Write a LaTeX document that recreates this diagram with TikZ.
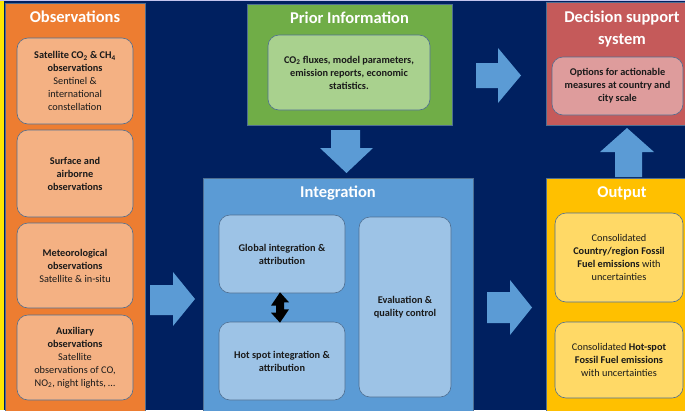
\documentclass[tikz,border=0pt]{standalone}
\usepackage{fontspec}
\setmainfont{Carlito}
\definecolor{navy}{HTML}{002060}
\definecolor{obsor}{HTML}{ED7D31}
\definecolor{obsin}{HTML}{F4B183}
\definecolor{prgr}{HTML}{70AD47}
\definecolor{prin}{HTML}{A9D18E}
\definecolor{intbl}{HTML}{5B9BD5}
\definecolor{intin}{HTML}{9DC3E6}
\definecolor{decred}{HTML}{C55A5A}
\definecolor{decin}{HTML}{DE9C9C}
\definecolor{outyl}{HTML}{FFC000}
\definecolor{outin}{HTML}{FFD966}
\definecolor{edgec}{HTML}{4F6F92}
\definecolor{txt}{HTML}{1A1A1A}
\begin{document}
\begin{tikzpicture}[x=1pt,y=-1pt,
  panel/.style={draw=edgec, line width=0.6pt, anchor=north west, inner sep=0pt},
  box/.style={draw=edgec, line width=0.6pt, rounded corners=11pt, align=center,
    inner sep=0pt, text=txt, font=\fontsize{10.3}{13}\selectfont},
  title/.style={text=white, font=\fontsize{16.5}{22}\selectfont\bfseries, align=center, inner sep=0pt},
  blockarrow/.style={fill=intbl},
]
\useasboundingbox (0,0) rectangle (685,410);
\fill[navy] (0,0) rectangle (685,410);
\fill[yellow!90!orange] (0,0) rectangle (3.5,410);
\fill[gray!45!blue!30] (0,0) rectangle (685,1.2);

% Observations
\node[panel, fill=obsor, minimum width=140pt, minimum height=412pt] (obs) at (5,3) {};
\node[title] (obst) at (75,17) {Observations};
\node[box, fill=obsin, minimum width=116pt, minimum height=86pt] (sat) at (75,81)
  {\textbf{Satellite CO\textsubscript{2} \& CH\textsubscript{4}}\\\textbf{observations}\\Sentinel \&\\international\\constellation};
\node[box, fill=obsin, minimum width=116pt, minimum height=87pt] (surf) at (75,173.5)
  {\textbf{Surface and}\\\textbf{airborne}\\\textbf{observations}};
\node[box, fill=obsin, minimum width=116pt, minimum height=85pt] (meteo) at (75,265.5)
  {\textbf{Meteorological}\\\textbf{observations}\\Satellite \& in-situ};
\node[box, fill=obsin, minimum width=116pt, minimum height=85pt] (aux) at (75,357.5)
  {\textbf{Auxiliary}\\\textbf{observations}\\Satellite\\observations of CO,\\NO\textsubscript{2}, night lights, \dots};

% Prior information
\node[panel, fill=prgr, minimum width=205pt, minimum height=121pt] (prior) at (247,4) {};
\node[title] (priort) at (349.5,18) {Prior Information};
\node[box, fill=prin, minimum width=162pt, minimum height=75pt] (priorin) at (349,72.5)
  {\textbf{CO\textsubscript{2} fluxes, model parameters,}\\\textbf{emission reports, economic}\\\textbf{statistics.}};

% Integration
\node[panel, fill=intbl, minimum width=270pt, minimum height=240pt] (integ) at (203,178) {};
\node[title] (integt) at (338,193) {Integration};
\node[box, fill=intin, minimum width=126pt, minimum height=78pt] (glob) at (282,254)
  {\textbf{Global integration \&}\\\textbf{attribution}};
\node[box, fill=intin, minimum width=126pt, minimum height=78pt] (hot) at (282,361)
  {\textbf{Hot spot integration \&}\\\textbf{attribution}};
\node[box, fill=intin, minimum width=92pt, minimum height=180pt] (eval) at (405,307)
  {\textbf{Evaluation \&}\\\textbf{quality control}};

% Decision support system
\node[panel, fill=decred, minimum width=152pt, minimum height=123pt] (dss) at (546,2) {};
\node[title] (dsst) at (622,29) {Decision support\\system};
\node[box, fill=decin, minimum width=131pt, minimum height=58pt] (dssin) at (617.5,86)
  {\textbf{Options for actionable}\\\textbf{measures at country and}\\\textbf{city scale}};

% Output
\node[panel, fill=outyl, minimum width=152pt, minimum height=240pt] (out) at (546,178) {};
\node[title] (outt) at (622,193) {Output};
\node[box, fill=outin, minimum width=128pt, minimum height=89pt] (outa) at (619,257.5)
  {Consolidated\\\textbf{Country/region Fossil}\\\textbf{Fuel emissions} with\\uncertainties};
\node[box, fill=outin, minimum width=128pt, minimum height=76pt] (outb) at (619,360)
  {Consolidated \textbf{Hot-spot}\\\textbf{Fossil Fuel emissions}\\with uncertainties};

% Block arrows
% Observations -> Integration
\fill[blockarrow] (150,285) -- (173,285) -- (173,272) -- (195,299) -- (173,326) -- (173,315) -- (150,315) -- cycle;
% Prior -> Integration
\fill[blockarrow] (331,130) -- (360,130) -- (360,148) -- (373,148) -- (346.5,173) -- (320,148) -- (331,148) -- cycle;
% Prior -> Decision support
\fill[blockarrow] (476,63) -- (498,63) -- (498,48) -- (521,75.5) -- (498,103) -- (498,88) -- (476,88) -- cycle;
% Integration -> Output
\fill[blockarrow] (487,292) -- (510,292) -- (510,280) -- (532,307.5) -- (510,335) -- (510,323) -- (487,323) -- cycle;
% Output -> Decision support
\fill[blockarrow] (615,177) -- (615,152) -- (600,152) -- (627,128) -- (654,152) -- (642,152) -- (642,177) -- cycle;

% Double arrow between global and hot spot
\coordinate (da1) at ([xshift=-2pt]glob.south);
\coordinate (da2) at ([xshift=-2pt]hot.north);
\fill[black] ([yshift=1pt]da1) -- ++(9,10) -- ++(-5,0) -- ++(0,7) -- ++(5,0) -- ([yshift=-1pt]da2)
  -- ++(-9,-10) -- ++(5,0) -- ++(0,-7) -- ++(-5,0) -- cycle;
\end{tikzpicture}
\end{document}
